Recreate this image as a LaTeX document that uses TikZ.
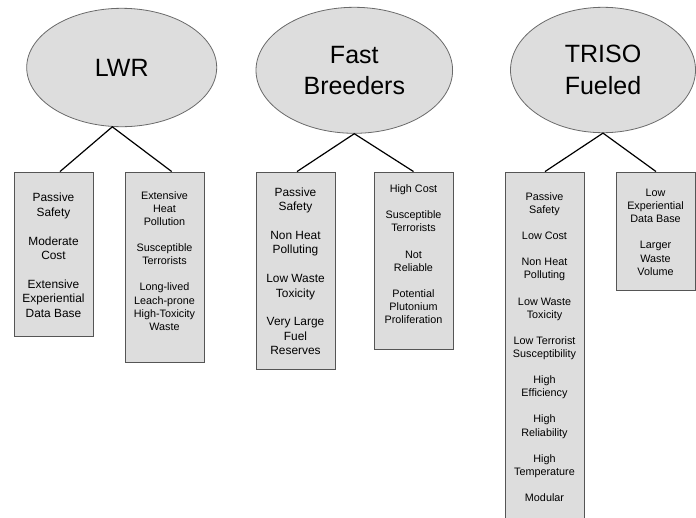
\documentclass[tikz,border=0pt]{standalone}
\usepackage{fontspec}
\setmainfont{Liberation Sans}
\usetikzlibrary{shapes.geometric}
\definecolor{ellfill}{HTML}{DDDDDD}
\definecolor{ellline}{HTML}{6A6A6A}
\definecolor{boxfill}{HTML}{DDDDDD}
\definecolor{boxline}{HTML}{555555}
\begin{document}
\begin{tikzpicture}[x=1pt,y=-1pt,
  head/.style={ellipse, draw=ellline, fill=ellfill, line width=0.8pt, inner sep=0pt,
    font=\fontsize{25}{31.5}\selectfont, align=center},
  item/.style={rectangle, draw=boxline, fill=boxfill, line width=0.9pt, inner sep=0pt, minimum width=79pt},
  bigtxt/.style={font=\fontsize{11.9}{14.4}\selectfont, align=center, inner sep=0pt, anchor=north},
  smalltxt/.style={font=\fontsize{10.8}{13.1}\selectfont, align=center, inner sep=0pt, anchor=north},
  link/.style={line width=1.2pt, black}
]
\useasboundingbox (0,0) rectangle (696,517);

% heads
\node[head, minimum width=190pt, minimum height=118.4pt] (lwr) at (121.7,67.5) {LWR};
\node[head, minimum width=196.6pt, minimum height=126pt] (fb) at (354.3,70.3) {Fast\\Breeders};
\node[head, minimum width=185pt, minimum height=125.4pt] (triso) at (603,70) {TRISO\\Fueled};

% boxes
\node[item, minimum height=164pt] (lwrL) at (53.5,254) {};
\node[item, minimum height=190pt] (lwrR) at (164.5,267) {};
\node[item, minimum height=197pt] (fbL) at (295.5,270.5) {};
\node[item, minimum height=177pt] (fbR) at (413.5,260.5) {};
\node[item, minimum height=348pt] (trL) at (544.5,346) {};
\node[item, minimum height=118pt] (trR) at (655.5,231) {};

% texts
\node[bigtxt] (lwrLt) at (53.5,193.1) {Passive\\Safety\\[14.4pt]Moderate\\Cost\\[14.4pt]Extensive\\Experiential\\Data Base};
\node[smalltxt] (lwrRt) at (164.5,191.2) {Extensive\\Heat\\Pollution\\[13.1pt]Susceptible\\Terrorists\\[13.1pt]Long-lived\\Leach-prone\\High-Toxicity\\Waste};
\node[bigtxt] (fbLt) at (295.5,187.5) {Passive\\Safety\\[14.4pt]Non Heat\\Polluting\\[14.4pt]Low Waste\\Toxicity\\[14.4pt]Very Large\\Fuel\\Reserves};
\node[smalltxt] (fbRt) at (413.5,184.5) {High Cost\\[13.1pt]Susceptible\\Terrorists\\[13.1pt]Not\\Reliable\\[13.1pt]Potential\\Plutonium\\Proliferation};
\node[smalltxt] (trLt) at (544.5,192.2) {Passive\\Safety\\[13.1pt]Low Cost\\[13.1pt]Non Heat\\Polluting\\[13.1pt]Low Waste\\Toxicity\\[13.1pt]Low Terrorist\\Susceptibility\\[13.1pt]High\\Efficiency\\[13.1pt]High\\Reliability\\[13.1pt]High\\Temperature\\[13.1pt]Modular};
\node[smalltxt] (trRt) at (655.5,188.9) {Low\\Experiential\\Data Base\\[13.1pt]Larger\\Waste\\Volume};

% connectors
\draw[link] ([xshift=6.5pt]lwrL.north) -- (lwr.261.3) -- ([xshift=7.2pt]lwrR.north);
\draw[link] ([xshift=1.5pt]fbL.north) -- (fb.south) -- (fbR.north);
\draw[link] ([xshift=0.5pt]trL.north) -- (triso.south) -- ([xshift=0.5pt]trR.north);
\end{tikzpicture}
\end{document}
